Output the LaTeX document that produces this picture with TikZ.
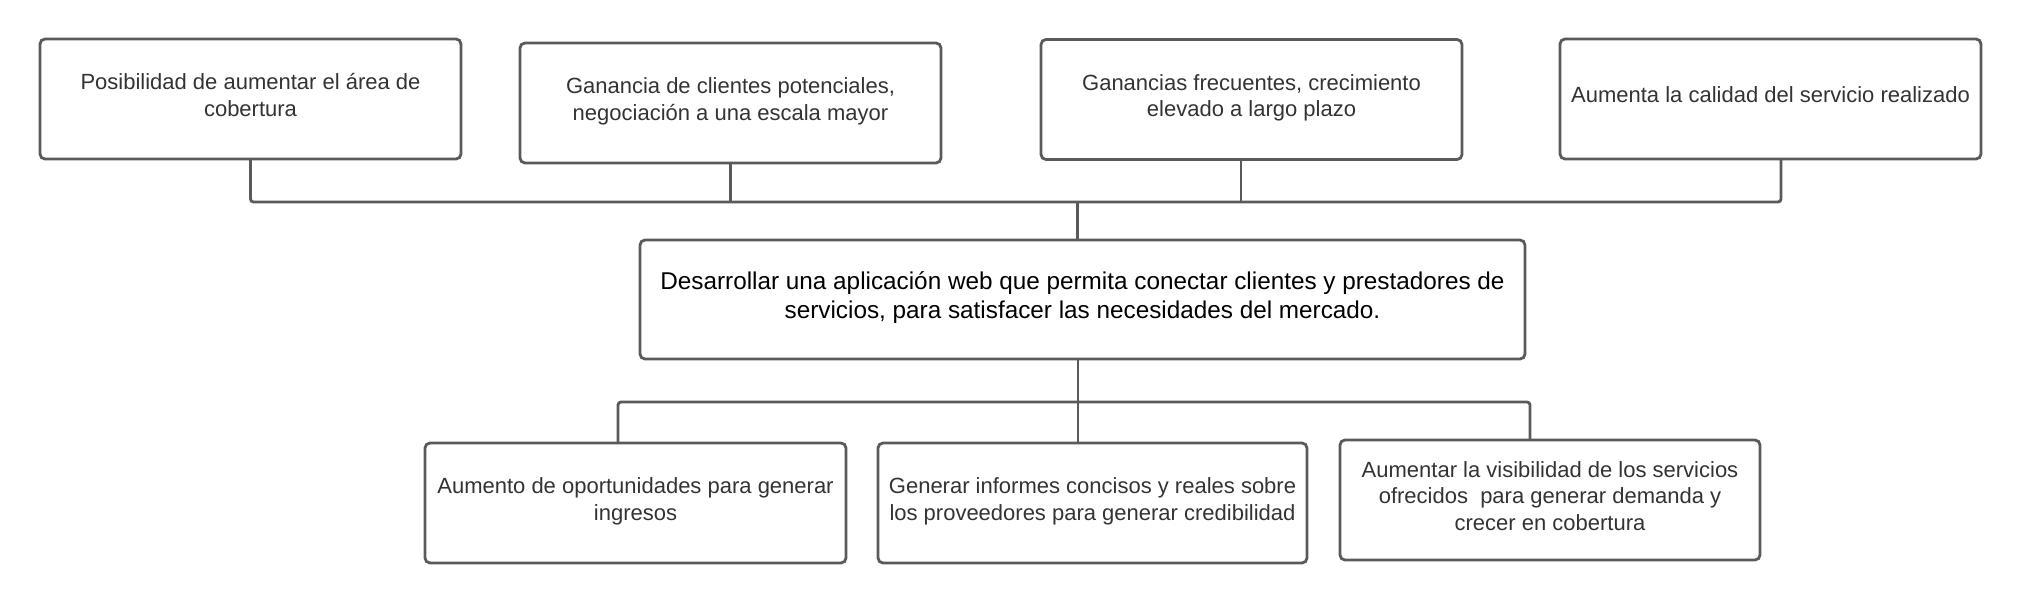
\documentclass[tikz,border=0pt]{standalone}
\usepackage{fontspec}
\setmainfont{Liberation Sans}
\usetikzlibrary{calc}
\definecolor{boxline}{HTML}{5A5A5A}
\definecolor{boxtext}{HTML}{333333}
\tikzset{
  cell/.style={draw=boxline, line width=2.8pt, rounded corners=5pt,
    outer sep=0pt, align=center, text=boxtext, minimum height=120pt,
    font=\fontsize{22}{26.5}\selectfont,
    execute at end node={\rule[-8pt]{0pt}{0pt}}},
  goal/.style={cell, text=black, font=\fontsize{24.3}{29}\selectfont},
  link/.style={draw=boxline, line width=2.8pt, rounded corners=3pt}
}
\begin{document}
\begin{tikzpicture}[x=1pt,y=-1pt]
\useasboundingbox (0,0) rectangle (2037,602);

\node[cell, minimum width=421pt] (p1) at (250.5,99)
  {Posibilidad de aumentar el área de\\cobertura};
\node[cell, minimum width=421pt] (p2) at (730.5,103)
  {Ganancia de clientes potenciales,\\negociación a una escala mayor};
\node[cell, minimum width=421pt] (p3) at (1251.5,99.5)
  {Ganancias frecuentes, crecimiento\\elevado a largo plazo};
\node[cell, minimum width=421pt] (p4) at (1770.5,99)
  {Aumenta la calidad del servicio realizado};

\node[goal, minimum width=885pt, minimum height=119pt] (main) at (1082.5,299.5)
  {Desarrollar una aplicación web que permita conectar clientes y prestadores de\\
   servicios, para satisfacer las necesidades del mercado.};

\node[cell, minimum width=421pt] (c1) at (635.5,503)
  {Aumento de oportunidades para generar\\ingresos};
\node[cell, minimum width=429pt] (c2) at (1092.5,503)
  {Generar informes concisos y reales sobre\\los proveedores para generar credibilidad};
\node[cell, minimum width=420pt] (c3) at (1550,500)
  {Aumentar la visibilidad de los servicios\\ofrecidos\ \ para generar demanda y\\crecer en cobertura};

\coordinate (topbus) at (0,202);
\coordinate (lowbus) at (0,402);
\coordinate (p3s) at ($(p3.south)+(-10.5,0)$);
\coordinate (p4s) at ($(p4.south)+(10.5,0)$);
\coordinate (mn) at ($(main.north)+(-5,0)$);
\coordinate (ms) at ($(main.south)+(-4.5,0)$);
\coordinate (c1n) at ($(c1.north)+(-17.5,0)$);
\coordinate (c2n) at (c2.north -| ms);
\coordinate (c3n) at ($(c3.north)+(-20,0)$);

\draw[link] (p1.south) |- (p4s |- topbus) -- (p4s);
\draw[link] (p2.south) -- (p2.south |- topbus);
\draw[link] (p3s) -- (p3s |- topbus);
\draw[link] (mn) -- (mn |- topbus);

\draw[link] (c1n) |- (c3n |- lowbus) -- (c3n);
\draw[link] (ms) -- (c2n);
\end{tikzpicture}
\end{document}
